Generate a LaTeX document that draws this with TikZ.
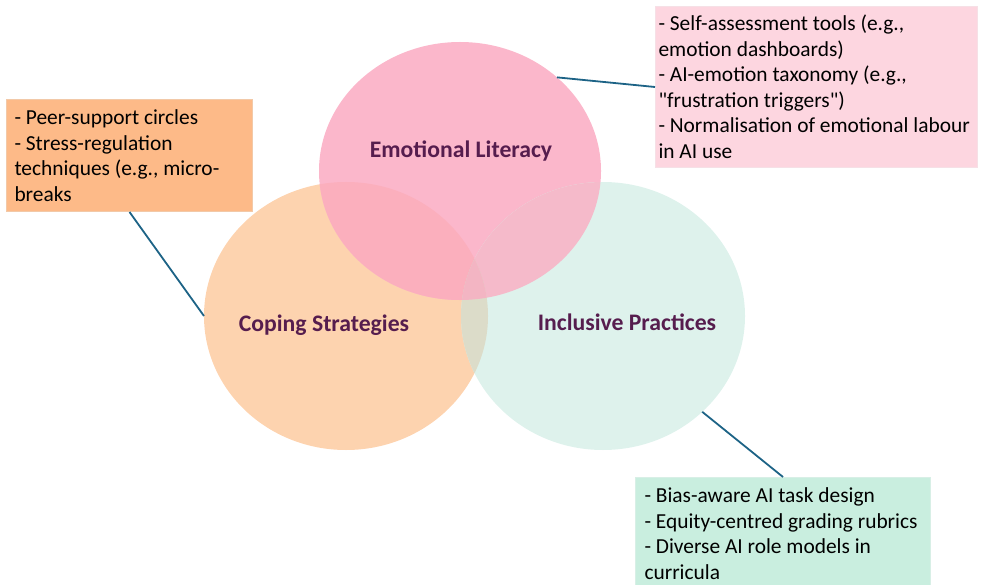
\documentclass[tikz,border=0pt]{standalone}
\usepackage{fontspec}
\setmainfont{Carlito}
\usetikzlibrary{shapes.geometric}

\definecolor{orangeC}{HTML}{FDD3AF}
\definecolor{pinkC}{HTML}{FBB7CB}
\definecolor{greenC}{HTML}{DEF2EC}
\definecolor{opC}{HTML}{FBAFBD}
\definecolor{pgC}{HTML}{F5BACA}
\definecolor{ogC}{HTML}{DCDCC9}
\definecolor{opgC}{HTML}{F3B5C3}
\definecolor{oboxC}{HTML}{FDBA88}
\definecolor{oboxL}{HTML}{F2C9A8}
\definecolor{pboxC}{HTML}{FDD6E0}
\definecolor{pboxL}{HTML}{F6E0E6}
\definecolor{gboxC}{HTML}{C9EEDF}
\definecolor{gboxL}{HTML}{D8EFE6}
\definecolor{titleC}{HTML}{561D4E}
\definecolor{linkC}{HTML}{1D6386}

\begin{document}
\begin{tikzpicture}[x=1pt,y=-1pt,
  venn/.style={ellipse, draw=none, inner sep=0pt, outer sep=0pt,
    minimum width=#1},
  title/.style={font=\fontsize{23.7}{28}\selectfont\bfseries, text=titleC,
    inner sep=0pt},
  listbox/.style={rectangle, anchor=north west, inner ysep=0pt,
    align=flush left, line width=1pt,
    font=\fontsize{21.4}{25.5}\selectfont, text=black},
  link/.style={draw=linkC, line width=1.8pt}]

\useasboundingbox (0,0) rectangle (981,585);

% the three sets
\node[venn=284pt, minimum height=268pt, fill=orangeC] (ocirc) at (346,316) {};
\node[venn=282pt, minimum height=258pt, fill=pinkC]   (pcirc) at (460,171) {};
\node[venn=284pt, minimum height=268pt, fill=greenC]  (gcirc) at (603,316) {};

% overlap tints
\begin{scope}
  \clip (ocirc.center) ellipse [x radius=142pt, y radius=134pt];
  \fill[opC] (pcirc.center) ellipse [x radius=141pt, y radius=129pt];
\end{scope}
\begin{scope}
  \clip (pcirc.center) ellipse [x radius=141pt, y radius=129pt];
  \fill[pgC] (gcirc.center) ellipse [x radius=142pt, y radius=134pt];
\end{scope}
\begin{scope}
  \clip (ocirc.center) ellipse [x radius=142pt, y radius=134pt];
  \fill[ogC] (gcirc.center) ellipse [x radius=142pt, y radius=134pt];
\end{scope}
\begin{scope}
  \clip (ocirc.center) ellipse [x radius=142pt, y radius=134pt];
  \clip (pcirc.center) ellipse [x radius=141pt, y radius=129pt];
  \fill[opgC] (gcirc.center) ellipse [x radius=142pt, y radius=134pt];
\end{scope}

% set titles
\node[title] (ptitle) at (461,151) {Emotional Literacy};
\node[title] (otitle) at (324,325) {Coping Strategies};
\node[title] (gtitle) at (627,322) {Inclusive Practices};

% example boxes
\node[listbox, fill=oboxC, draw=oboxL, inner xsep=8pt, text width=230pt,
  minimum height=112pt] (obox) at (6,99)
  {- Peer-support circles\\- Stress-regulation\\techniques (e.g., micro-\\breaks};
\node[listbox, fill=pboxC, draw=pboxL, inner xsep=3pt, text width=316pt,
  minimum height=161pt] (pbox) at (655,6)
  {- Self-assessment tools (e.g.,\\emotion dashboards)\\- AI-emotion taxonomy (e.g.,\\\textquotedbl frustration triggers\textquotedbl)\\- Normalisation of emotional labour\\in AI use};
\node[listbox, fill=gboxC, draw=gboxL, inner xsep=9pt, text width=277pt,
  minimum height=112pt] (gbox) at (635,477)
  {- Bias-aware AI task design\\- Equity-centred grading rubrics\\- Diverse AI role models in\\curricula};

% connectors
\draw[link] (obox.south) -- (ocirc.west);
\draw[link] (pcirc.44) -- (pbox.west);
\draw[link] (gcirc.-44) -- (gbox.north);
\end{tikzpicture}
\end{document}
